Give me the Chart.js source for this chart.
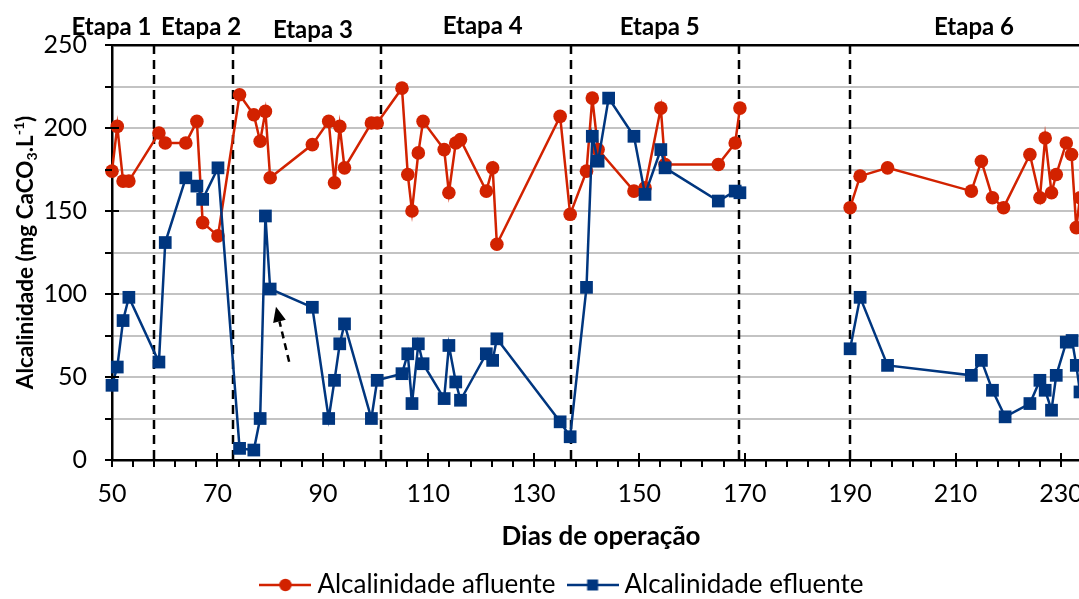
<!DOCTYPE html>
<html><head><meta charset="utf-8">
<script src="https://cdn.jsdelivr.net/npm/chart.js@4.4.1/dist/chart.umd.min.js"></script>
<style>
html,body{margin:0;padding:0;overflow:hidden;background:#fff;width:1079px;height:599px}
#wrap{position:absolute;left:0;top:0;width:1079px;height:599px;overflow:hidden}
canvas{position:absolute;left:0;top:0}
</style></head><body><div id="wrap"><canvas id="c" width="1140" height="608" style="width:1140px;height:608px"></canvas></div>
<script>
// ---- data ----
const daysAfluente = [50,51,52.1,53.2,58.9,60.1,64,66.1,67.2,70.1,74.2,76.9,78.1,79.1,80,88,91.1,92.2,93.2,94.1,99.2,100.3,
  105,106.1,106.9,108.1,109,113,113.9,115.2,116.1,121,122.2,123,135,136.9,140,141.1,142.2,149,151.1,154.1,154.9,165,168.2,169.1,
  190,191.9,197.1,213,214.9,217,219.1,224.1,226,227,228.2,229.1,231,232,232.9,233.6];
const alcAfluente = [174,201,168,168,197,191,191,204,143,135,220,208,192,210,170,190,204,167,201,176,203,203,
  224,172,150,185,204,187,161,191,193,162,176,130,207,148,174,218,187,162,164,212,178,178,191,212,
  152,171,176,162,180,158,152,184,158,194,161,172,191,184,140,158];
const daysEfluente = [50,51,52.1,53.2,58.9,60.1,64,66.1,67.2,70.1,74.2,76.9,78.1,79.1,80,88,91.1,92.2,93.2,94.1,99.2,100.3,
  105,106.1,106.9,108.1,109,113,113.9,115.2,116.1,121,122.2,123,135,136.9,140,141.1,142.2,144.2,149,151.1,154.1,154.9,165,168.2,169.1,
  190,191.9,197.1,213,214.9,217,219.4,224.1,226,227,228.2,229.1,231,232.1,232.9,233.6];
const alcEfluente = [45,56,84,98,59,131,170,165,157,176,7,6,25,147,103,92,25,48,70,82,25,48,
  52,64,34,70,58,37,69,47,36,64,60,73,23,14,104,195,180,218,195,160,187,176,156,162,161,
  67,98,57,51,60,42,26,34,48,42,30,51,71,72,57,41];
const seriesNames = ['Alcalinidade afluente','Alcalinidade efluente'];
const xTickValues = [50,70,90,110,130,150,170,190,210,230];
const stageBoundaries = [58,73,101,137,169,190];
const stageNames = ['Etapa 1','Etapa 2','Etapa 3','Etapa 4','Etapa 5','Etapa 6'];
const stageLabelCenters = [49.9,66.9,88.1,120.3,153.9,213.5];
const dataGapDays = 19; // no measurements between stages 5 and 6
const arrowTail = [83.6,59.2];
const arrowHead = [81.1,92.3];
const xTitle = 'Dias de operação';
const yTitleParts = ['Alcalinidade (mg CaCO','3','.L','-1',')'];

// ---- style ----
const RED = '#d22200';
const BLUE = '#00367f';
const FONT = 'Lato';
Chart.defaults.font.family = FONT;
Chart.defaults.color = '#000';

function legendIcon(color, kind){
  const c = document.createElement('canvas'); c.width = 52; c.height = 16;
  const g = c.getContext('2d');
  g.strokeStyle = color; g.lineWidth = 2.5;
  g.beginPath(); g.moveTo(0,8); g.lineTo(52,8); g.stroke();
  g.fillStyle = color;
  if (kind === 'circle'){ g.beginPath(); g.arc(26,8,6.2,0,Math.PI*2); g.fill(); }
  else { g.fillRect(20.5,2.5,11,11); }
  return c;
}
const icons = [legendIcon(RED,'circle'), legendIcon(BLUE,'rect')];
const gapSegment = { borderColor: c => (c.p1.parsed.x - c.p0.parsed.x > dataGapDays ? 'rgba(0,0,0,0)' : undefined) };

const overlay = {
  id: 'overlay',
  afterLayout(chart){
    const lg = chart.legend;
    lg.left = 0; lg.right = 1130;
  },
  beforeDatasetsDraw(chart){
    const {ctx, chartArea:a, scales:{x}} = chart;
    ctx.save();
    ctx.strokeStyle = '#000'; ctx.lineWidth = 2.5; ctx.setLineDash([9,6]);
    stageBoundaries.forEach(v=>{
      const px = Math.round(x.getPixelForValue(v));
      ctx.beginPath(); ctx.moveTo(px, a.top); ctx.lineTo(px, a.bottom); ctx.stroke();
    });
    ctx.restore();
  },
  afterDraw(chart){
    const {ctx, chartArea:a, scales:{x,y}} = chart;
    ctx.save();
    // tick marks
    ctx.strokeStyle = '#000'; ctx.lineWidth = 2; ctx.setLineDash([]);
    for (let v = 0; v <= 250; v += 25){
      const py = Math.round(y.getPixelForValue(v));
      const major = v % 50 === 0;
      ctx.beginPath(); ctx.moveTo(a.left - 7, py); ctx.lineTo(major ? a.left + 7 : a.left, py); ctx.stroke();
    }
    for (let v = 50; v <= x.max; v += 4){
      const px = Math.round(x.getPixelForValue(v));
      const major = (v - 50) % 20 === 0;
      ctx.beginPath(); ctx.moveTo(px, major ? a.bottom - 7 : a.bottom); ctx.lineTo(px, a.bottom + 7); ctx.stroke();
    }
    // stage labels
    ctx.fillStyle = '#000'; ctx.font = 'bold 24px ' + FONT; ctx.textAlign = 'center'; ctx.textBaseline = 'alphabetic';
    const dy = [0,0,3,-1,0,0];
    stageNames.forEach((s,i)=>{
      ctx.fillText(s, x.getPixelForValue(stageLabelCenters[i]), 35 + dy[i]);
    });
    // arrow
    const tx = x.getPixelForValue(arrowTail[0]), ty = y.getPixelForValue(arrowTail[1]);
    const hx = x.getPixelForValue(arrowHead[0]), hy = y.getPixelForValue(arrowHead[1]);
    const dx = hx - tx, dyy = hy - ty, L = Math.hypot(dx, dyy), ux = dx / L, uy = dyy / L;
    const hl = 15, hw = 6.5;
    const bx = hx - ux * hl, by = hy - uy * hl;
    ctx.lineWidth = 2.5; ctx.setLineDash([7,5]);
    ctx.beginPath(); ctx.moveTo(tx, ty); ctx.lineTo(bx, by); ctx.stroke();
    ctx.setLineDash([]);
    ctx.beginPath(); ctx.moveTo(hx, hy); ctx.lineTo(bx - uy * hw, by + ux * hw); ctx.lineTo(bx + uy * hw, by - ux * hw); ctx.closePath(); ctx.fill();
    // y title with sub/superscript
    ctx.translate(33, (a.top + a.bottom) / 2); ctx.rotate(-Math.PI / 2);
    ctx.textAlign = 'left'; ctx.textBaseline = 'alphabetic';
    const big = 'bold 22.5px ' + FONT, small = 'bold 14px ' + FONT;
    const parts = [[yTitleParts[0], big, 0],[yTitleParts[1], small, 4],[yTitleParts[2], big, 0],[yTitleParts[3], small, -9],[yTitleParts[4], big, 0]];
    let total = 0; parts.forEach(p => { ctx.font = p[1]; total += ctx.measureText(p[0]).width; });
    let cx = -total / 2;
    parts.forEach(p => { ctx.font = p[1]; ctx.fillText(p[0], cx, p[2]); cx += ctx.measureText(p[0]).width; });
    ctx.restore();
  }
};

const chart = new Chart(document.getElementById('c'), {
  type: 'line',
  data: {
    datasets: [
      { label: seriesNames[0], data: daysAfluente.map((d,i)=>({x:d, y:alcAfluente[i]})),
        borderColor: RED, backgroundColor: RED, borderWidth: 2.5, pointStyle: 'circle', pointRadius: 6.8,
        pointBorderWidth: 0, pointBackgroundColor: RED, tension: 0, order: 1, clip: false, segment: gapSegment },
      { label: seriesNames[1], data: daysEfluente.map((d,i)=>({x:d, y:alcEfluente[i]})),
        borderColor: BLUE, backgroundColor: BLUE, borderWidth: 2.5, pointStyle: 'rect', pointRadius: 9,
        pointBorderWidth: 0, pointBackgroundColor: BLUE, tension: 0, order: 0, clip: false, segment: gapSegment }
    ]
  },
  options: {
    responsive: false, animation: false, devicePixelRatio: 1,
    layout: { padding: { top: 45, right: 50, bottom: 0, left: 0 } },
    plugins: {
      tooltip: { enabled: false },
      legend: {
        position: 'bottom',
        labels: {
          usePointStyle: true, pointStyleWidth: 38, padding: 18,
          font: { size: 26, family: FONT }, color: '#000',
          generateLabels: (ch) => ch.data.datasets.map((ds,i)=>({
            text: ds.label, fillStyle: ds.borderColor, strokeStyle: ds.borderColor, lineWidth: 0,
            pointStyle: icons[i], hidden: !ch.isDatasetVisible(i), datasetIndex: i, fontColor: '#000'
          }))
        }
      }
    },
    scales: {
      x: {
        type: 'linear', min: 50, max: 235.5,
        afterBuildTicks: s => { s.ticks = xTickValues.map(v => ({ value: v })); },
        afterFit: s => { s.height = s.chart.height - s.chart.legend.height - 460; },
        ticks: { autoSkip: false, maxRotation: 0, padding: 19, font: { size: 25 }, color: '#000' },
        grid: { drawOnChartArea: false, drawTicks: false },
        border: { display: true, color: '#000', width: 2.5 },
        title: { display: true, text: xTitle, font: { size: 26, weight: 'bold' }, color: '#000', padding: { top: 0, bottom: 2 } }
      },
      y: {
        min: 0, max: 250,
        afterFit: s => { s.width = 112; },
        ticks: { stepSize: 25, padding: 25, font: { size: 25 }, color: '#000',
          callback: v => (v % 50 === 0 ? String(v) : '') },
        grid: { drawTicks: false,
          color: c => (c.tick && c.tick.value === 250 ? '#000' : '#c3c3c3'),
          lineWidth: c => (c.tick && c.tick.value === 250 ? 2.5 : 2) },
        border: { display: true, color: '#000', width: 2.5 }
      }
    }
  },
  plugins: [overlay]
});
</script></body></html>
